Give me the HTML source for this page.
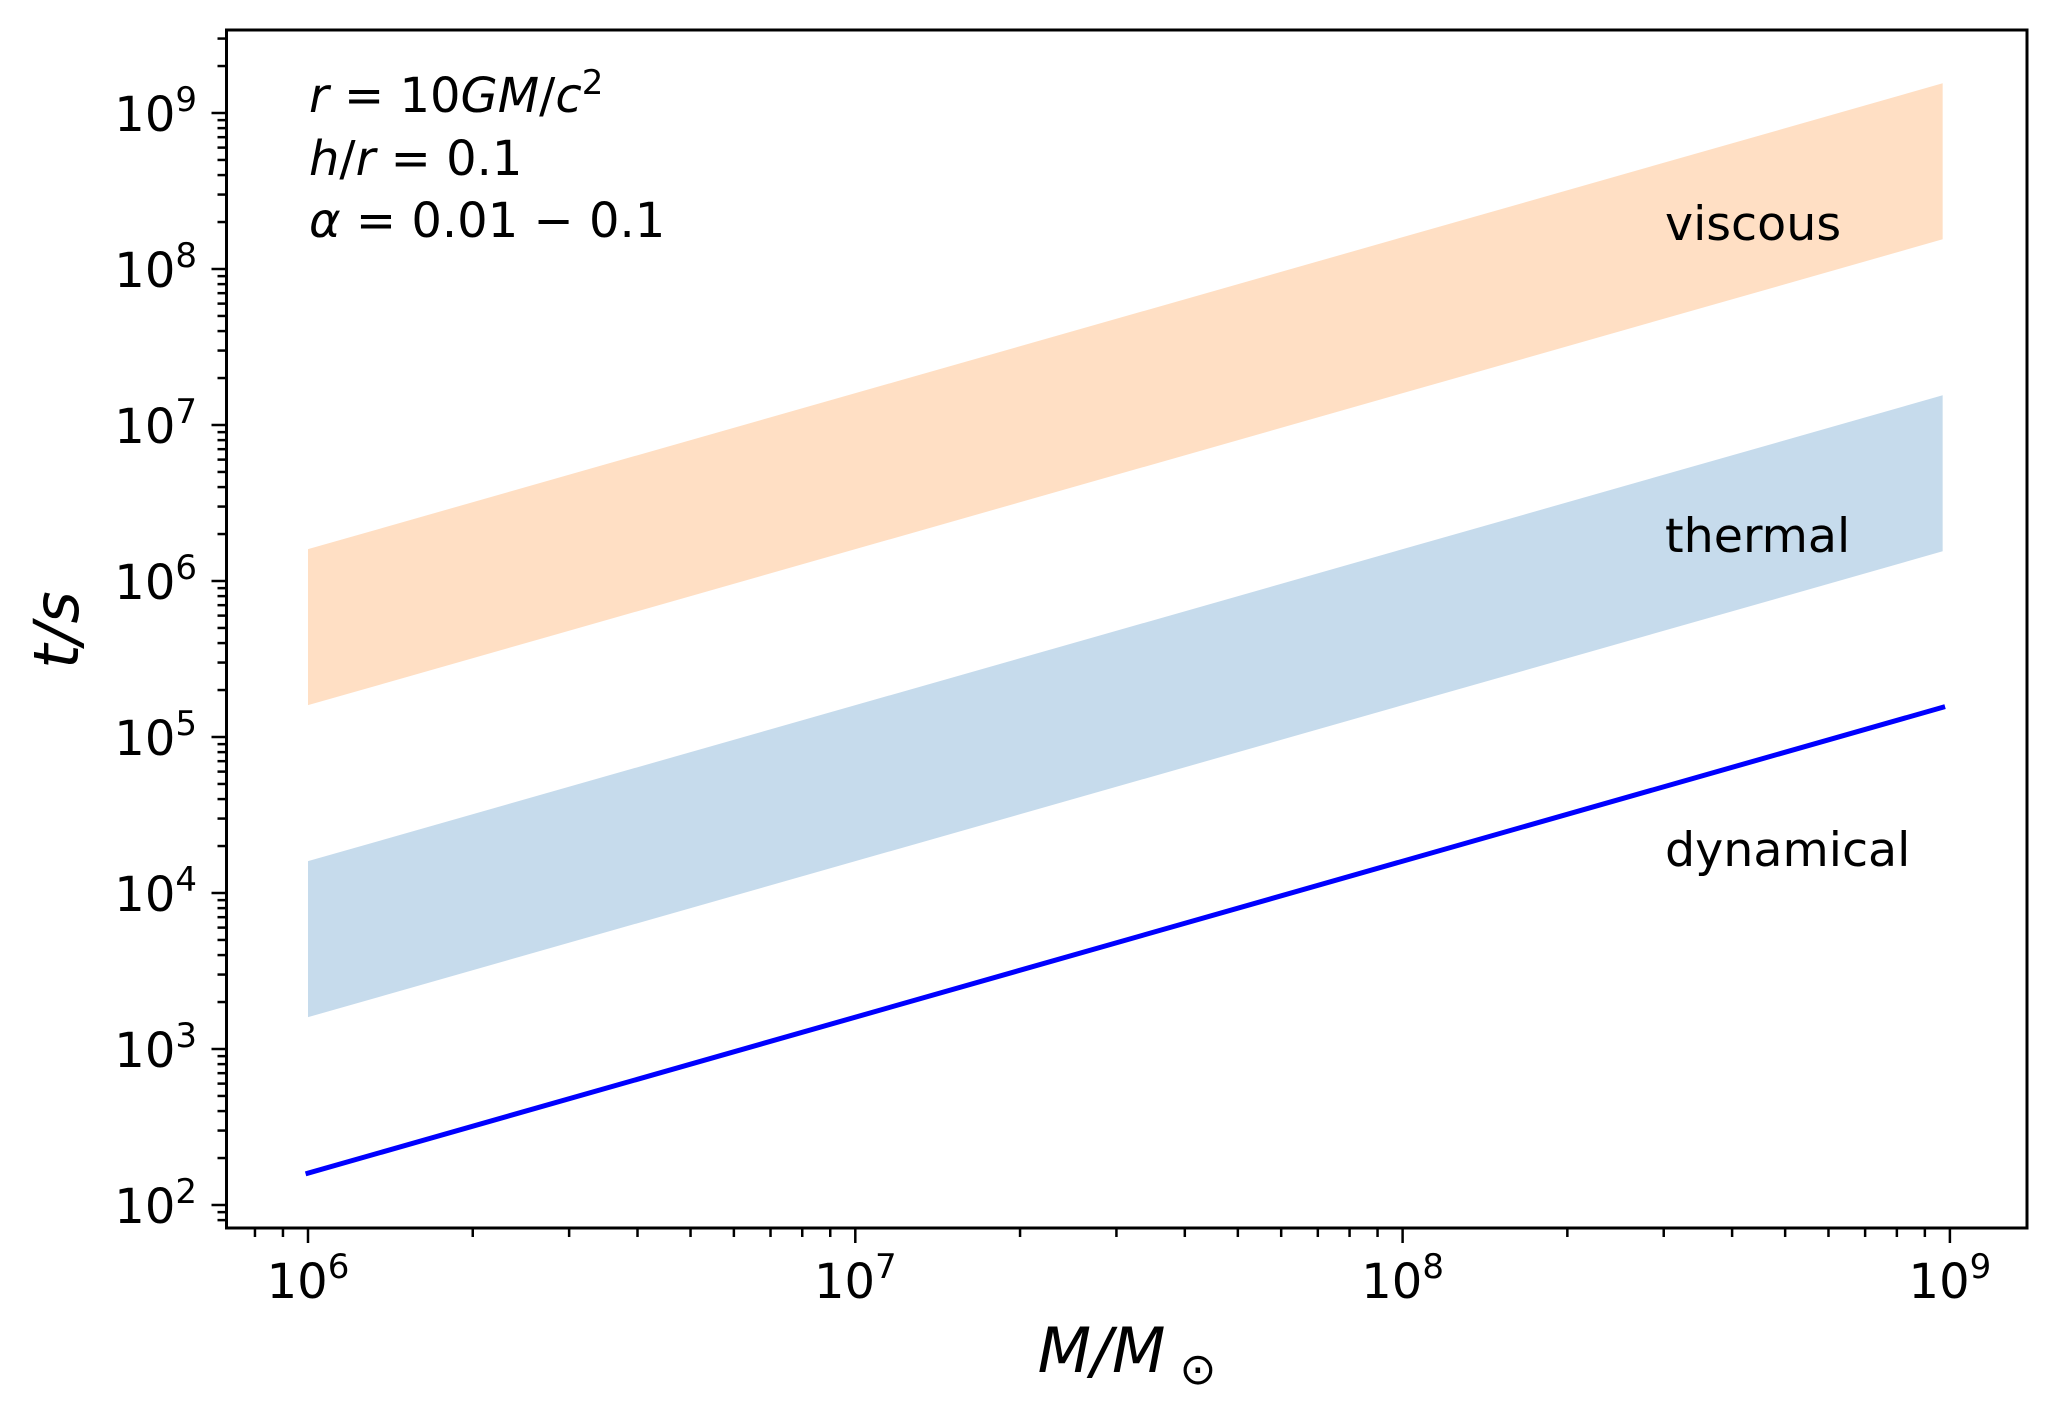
<!DOCTYPE html>
<html><head><meta charset="utf-8"><style>
html,body{margin:0;padding:0;background:#fff;}
svg{display:block;font-family:"DejaVu Sans","Liberation Sans",sans-serif;}
</style></head><body>
<svg id="chart" width="2056" height="1419" viewBox="0 0 2056 1419" xmlns="http://www.w3.org/2000/svg">
<rect width="2056" height="1419" fill="#fff"/>
<g id="bands"></g>
<g id="lines"></g>
<g id="ticks"></g>
<rect x="226.5" y="30" width="1800.5" height="1198" fill="none" stroke="#000" stroke-width="3"/>
<g font-size="48">
<text x="309" y="112"><tspan font-style="italic">r</tspan> = 10<tspan font-style="italic">GM</tspan>/<tspan font-style="italic">c</tspan><tspan font-size="34" dy="-18">2</tspan></text>
<text x="309" y="175"><tspan font-style="italic">h</tspan>/<tspan font-style="italic">r</tspan> = 0.1</text>
<text x="309" y="237"><tspan font-style="italic">α</tspan> = 0.01 − 0.1</text>
</g>
<text x="1665" y="240" font-size="47.5">viscous</text>
<text x="1665" y="552" font-size="47.5">thermal</text>
<text x="1665" y="866" font-size="47.5">dynamical</text>
<text x="1127" y="1372" font-size="62" font-style="italic" text-anchor="middle">M/M<tspan font-style="normal" font-size="44" dy="12"> ⊙</tspan></text>
<text transform="translate(78,630) rotate(-90)" font-size="62" font-style="italic" text-anchor="middle">t/s</text>
</svg>
<script>
const masses = [1e6, 9.7e8];
const viscousHigh = [1.6e6, 1.55e9];
const viscousLow = [1.6e5, 1.55e8];
const thermalHigh = [1.6e4, 1.55e7];
const thermalLow = [1.6e3, 1.55e6];
const dynamical = [1.6e2, 1.55e5];
const xTickExps = [6, 7, 8, 9];
const yTickExps = [2, 3, 4, 5, 6, 7, 8, 9];

const NS = "http://www.w3.org/2000/svg";
const X0 = 308, XD = 547.3, Y0 = 1205, YD = 156;
const xs = v => X0 + (Math.log10(v) - 6) * XD;
const ys = v => Y0 - (Math.log10(v) - 2) * YD;
function mk(tag, attrs, parent){const e=document.createElementNS(NS,tag);for(const k in attrs)e.setAttribute(k,attrs[k]);parent.appendChild(e);return e;}

const bands = document.getElementById('bands');
function band(hi, lo, color, name){
  let d = masses.map((m,i)=>(i?'L':'M')+xs(m)+','+ys(hi[i])).join(' ');
  for(let i=masses.length-1;i>=0;i--) d+=' L'+xs(masses[i])+','+ys(lo[i]);
  const p = mk('path',{d:d+' Z',fill:color},bands);
  
  
}
band(viscousHigh, viscousLow, '#ffdfc4', 'viscous-band');
band(thermalHigh, thermalLow, '#c6dbec', 'thermal-band');

const lines = document.getElementById('lines');
const dl = mk('polyline',{points:masses.map((m,i)=>xs(m)+','+ys(dynamical[i])).join(' '),fill:'none',stroke:'#0000ff','stroke-width':5,'stroke-linecap':'square'},lines);



const tg = document.getElementById('ticks');
const L=226.5, B=1228, R=2027, T=30;
for(let e=5;e<=9;e++){
  for(let k=1;k<=9;k++){
    const x = X0 + (e-6+Math.log10(k))*XD;
    if(x<L||x>R) continue;
    mk('line',{x1:x,x2:x,y1:B,y2:B+(k===1?15:9),stroke:'#000','stroke-width':2.5},tg);
  }
}
xTickExps.forEach(e=>{
  const t = mk('text',{x:X0+(e-6)*XD,y:1298,'font-size':48,'text-anchor':'middle'},tg);
  t.innerHTML = '10<tspan font-size="34" dy="-20">'+e+'</tspan>';
  
  
});
for(let e=1;e<=9;e++){
  for(let k=1;k<=9;k++){
    const y = Y0 - (e-2+Math.log10(k))*YD;
    if(y>B||y<T) continue;
    mk('line',{x1:L,x2:L-(k===1?15:9),y1:y,y2:y,stroke:'#000','stroke-width':2.5},tg);
  }
}
yTickExps.forEach(e=>{
  const t = mk('text',{x:197,y:Y0-(e-2)*YD+18,'font-size':48,'text-anchor':'end'},tg);
  t.innerHTML = '10<tspan font-size="34" dy="-20">'+e+'</tspan>';
  
  
});
</script>
</body></html>
